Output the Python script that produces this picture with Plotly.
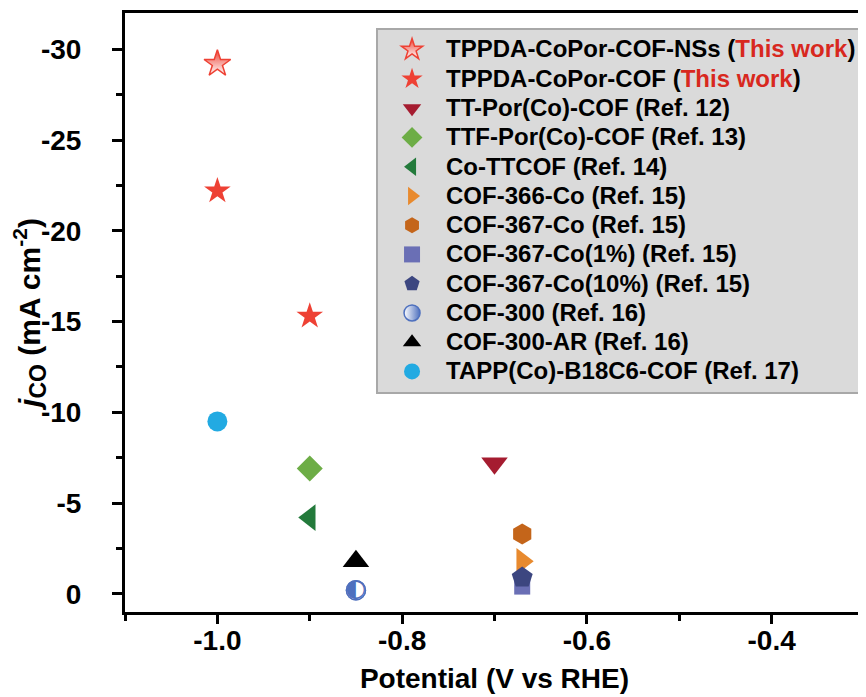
import plotly.graph_objects as go

# ---- data ----
names = [
    'TPPDA-CoPor-COF-NSs (<span style="color:#D8281E">This work</span>)',
    'TPPDA-CoPor-COF (<span style="color:#D8281E">This work</span>)',
    'TT-Por(Co)-COF (Ref. 12)',
    'TTF-Por(Co)-COF (Ref. 13)',
    'Co-TTCOF (Ref. 14)',
    'COF-366-Co (Ref. 15)',
    'COF-367-Co (Ref. 15)',
    'COF-367-Co(1%) (Ref. 15)',
    'COF-367-Co(10%) (Ref. 15)',
    'COF-300 (Ref. 16)',
    'COF-300-AR (Ref. 16)',
    'TAPP(Co)-B18C6-COF (Ref. 17)',
]
x_nss = [-1.0]
y_nss = [-29.2]
x_cof = [-1.0, -0.9]
y_cof = [-22.2, -15.3]
x_ttpor = [-0.70]
y_ttpor = [-7.2]
x_ttfpor = [-0.90]
y_ttfpor = [-6.9]
x_cott = [-0.90]
y_cott = [-4.2]
x_366 = [-0.67]
y_366 = [-1.8]
x_367 = [-0.67]
y_367 = [-3.3]
x_367_1 = [-0.67]
y_367_1 = [-0.4]
x_367_10 = [-0.67]
y_367_10 = [-0.9]
x_300 = [-0.85]
y_300 = [-0.2]
x_300ar = [-0.85]
y_300ar = [-1.8]
x_tapp = [-1.0]
y_tapp = [-9.5]

x_tickvals = [-1.0, -0.8, -0.6, -0.4]
x_ticktext = ["-1.0", "-0.8", "-0.6", "-0.4"]
y_tickvals = [-30, -25, -20, -15, -10, -5, 0]
y_ticktext = ["-30", "-25", "-20", "-15", "-10", "-5", "0"]

BLUE300 = '#4E70BE'
series = [
    (x_nss, y_nss, dict(symbol='star', size=20, color='#EE4134',
                        gradient=dict(type='vertical', color='white'),
                        line=dict(color='#EE4134', width=1.5))),
    (x_cof, y_cof, dict(symbol='star', size=20, color='#EE4134', line=dict(width=0))),
    (x_ttpor, y_ttpor, dict(symbol='triangle-down', size=23, color='#A51C30', line=dict(width=0))),
    (x_ttfpor, y_ttfpor, dict(symbol='diamond', size=20, color='#6DAD46', line=dict(width=0))),
    (x_cott, y_cott, dict(symbol='triangle-left', size=23, color='#237A3B', line=dict(width=0))),
    (x_366, y_366, dict(symbol='triangle-right', size=23, color='#E88A2E', line=dict(width=0))),
    (x_367, y_367, dict(symbol='hexagon', size=21, color='#C4651A', line=dict(width=0))),
    (x_367_1, y_367_1, dict(symbol='square', size=16, color='#6A6FB5', line=dict(width=0))),
    (x_367_10, y_367_10, dict(symbol='pentagon', size=22, color='#3C4680', line=dict(width=0))),
    (x_300, y_300, dict(symbol='circle', size=19, color='white',
                        gradient=dict(type='horizontal', color=BLUE300),
                        line=dict(color=BLUE300, width=1.5))),
    (x_300ar, y_300ar, dict(symbol='triangle-up', size=23, color='black', line=dict(width=0))),
    (x_tapp, y_tapp, dict(symbol='circle', size=20, color='#22AAE2', line=dict(width=0))),
]

FONT = 'Liberation Sans, Arial, sans-serif'

fig = go.Figure()
for name, (xs, ys, mk) in zip(names, series):
    fig.add_trace(go.Scatter(
        x=xs, y=ys, mode='markers', marker=mk,
        name='<span style="font-size:24px">' + name + '</span>'))

# half-filled circle: white disc with the half-filled glyph drawn on top of the COF-300 point
fig.add_trace(go.Scatter(
    x=x_300, y=y_300, mode='markers+text', text=['\u25D0'], showlegend=False,
    textposition='middle center', hoverinfo='skip',
    marker=dict(symbol='circle', size=19, color='white', line=dict(color=BLUE300, width=1.5)),
    textfont=dict(family='DejaVu Sans', size=24, color=BLUE300)))

W, H = 858, 689  # page body adds an 8px offset
fig.update_layout(
    width=W, height=H,
    margin=dict(l=117, r=2, t=5, b=85, autoexpand=False),
    paper_bgcolor='white', plot_bgcolor='white',
    font=dict(family=FONT, color='black'),
    showlegend=True,
    legend=dict(
        x=0.3397, y=0.975, xanchor='left', yanchor='top',
        bgcolor='#DADADA', bordercolor='#A8A8A8', borderwidth=2,
        font=dict(family=FONT, size=20.2, color='black', weight='bold'),
        tracegroupgap=0, itemwidth=58,
    ),
    xaxis=dict(
        range=[-1.1, -0.3], automargin=False,
        tickvals=x_tickvals, ticktext=x_ticktext,
        showgrid=False, zeroline=False,
        showline=True, linecolor='black', linewidth=3, mirror=True,
        ticks='outside', ticklen=9, tickwidth=3, tickcolor='black',
        minor=dict(dtick=0.1, ticks='outside', ticklen=6, tickwidth=3, tickcolor='black', showgrid=False),
        tickfont=dict(family=FONT, size=28, color='black', weight='bold'),
        ticklabelstandoff=-8,
        title=dict(text='Potential (V vs RHE)', standoff=14,
                   font=dict(family=FONT, size=28, color='black', weight='bold')),
    ),
    yaxis=dict(
        range=[1, -32], automargin=False,
        tickvals=y_tickvals, ticktext=y_ticktext,
        showgrid=False, zeroline=False,
        showline=True, linecolor='black', linewidth=3, mirror=True,
        ticks='outside', ticklen=10, tickwidth=3, tickcolor='black',
        minor=dict(dtick=2.5, ticks='outside', ticklen=6, tickwidth=3, tickcolor='black', showgrid=False),
        tickfont=dict(family=FONT, size=28, color='black', weight='bold'),
        ticklabelstandoff=25,
        title=dict(text='<i>j</i><sub><span style="font-size:23px">CO</span></sub> (mA cm<sup>-2</sup>)',
                   standoff=27,
                   font=dict(family=FONT, size=30, color='black', weight='bold')),
    ),
)

fig.write_html("out.html")
